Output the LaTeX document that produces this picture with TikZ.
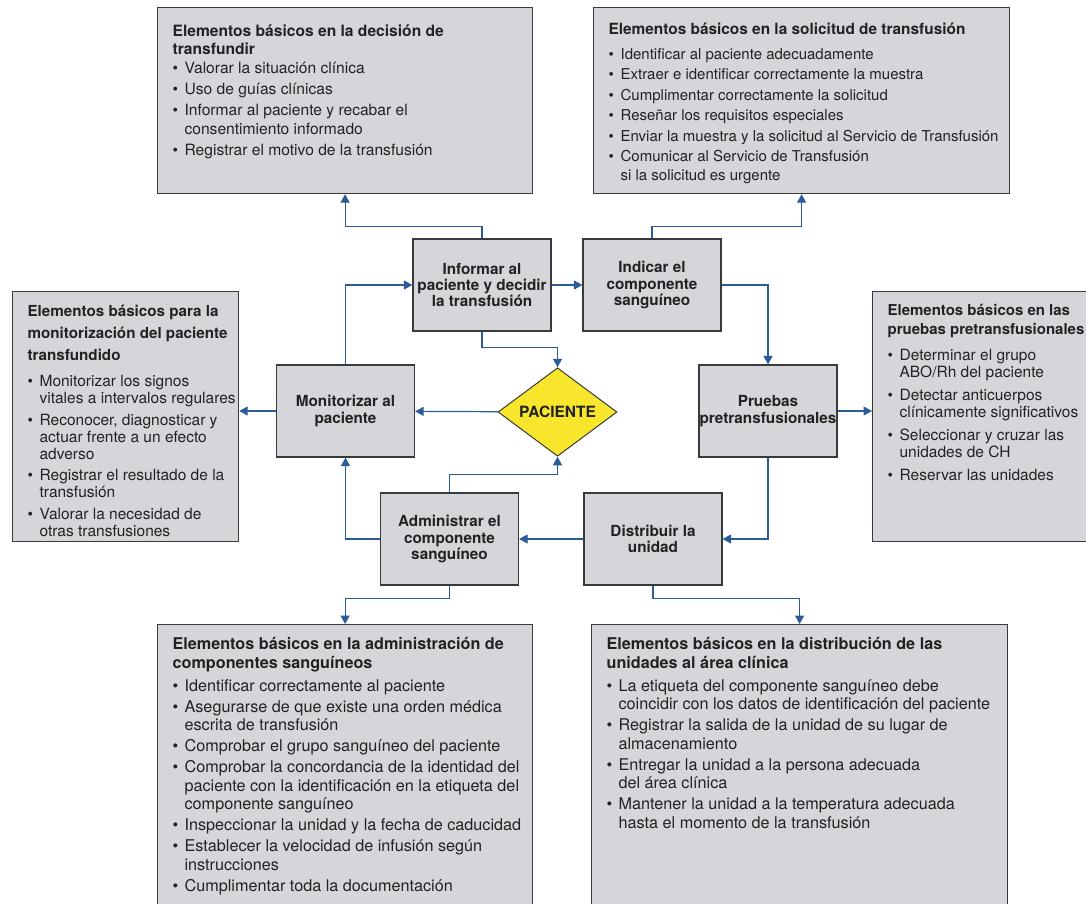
\documentclass[tikz,border=0pt]{standalone}
\usepackage{fontspec}
\setmainfont{TeX Gyre Heros}
\usetikzlibrary{arrows.meta,shapes.geometric}

\definecolor{boxfill}{HTML}{D4D6D9}
\definecolor{boxline}{HTML}{3A3A3A}
\definecolor{flowblue}{HTML}{2B5C97}
\definecolor{pacyellow}{HTML}{F7E62B}
\definecolor{inktext}{HTML}{222222}

% header and bullet lines of the side boxes
\newlength{\itemgap}\setlength{\itemgap}{2.5pt}
\newlength{\headgap}\setlength{\headgap}{2pt}
\newcommand{\bhead}[2][]{{#1\bfseries #2\par}\vspace{\headgap}}
\newcommand{\bpt}[1]{\par\vspace{\itemgap}\hangindent=12pt\hangafter=1\noindent
  \makebox[12pt][l]{\textbullet}#1\par}
% text of a side box: [top shift], width, height, lines
\newcommand{\boxtext}[4][0pt]{\makebox[#2][l]{\parbox[t][#3][t]{460pt}{%
  \vspace*{#1}\raggedright\let\\\newline #4}}}

\begin{document}
\begin{tikzpicture}[
  x=1pt, y=-1pt,
  every node/.style={text=inktext},
  infobox/.style={rectangle, draw=boxline, fill=boxfill, line width=1.2pt,
                  anchor=north west, inner xsep=15pt, inner ysep=13pt},
  topbox/.style={infobox, font=\fontsize{15.6}{18.5}\selectfont},
  lowbox/.style={infobox, font=\fontsize{16.2}{18.5}\selectfont},
  sidebox/.style={infobox, font=\fontsize{15.5}{17}\selectfont},
  stage/.style={rectangle, draw=boxline, fill=boxfill, line width=1.2pt,
                minimum width=138pt, minimum height=92pt, inner sep=0pt,
                align=center, font=\fontsize{15.3}{16.3}\selectfont\bfseries},
  hub/.style={diamond, draw=boxline, fill=pacyellow, line width=1pt,
              minimum width=119pt, minimum height=69pt, inner sep=0pt,
              font=\fontsize{15.5}{17}\selectfont\bfseries},
  flow/.style={draw=flowblue, line width=1.2pt,
               -{Triangle[length=8.5pt,width=9pt]}},
]
\path[use as bounding box, clip] (0,0) rectangle (1086,903);

% central cycle
\node[stage] (inf) at (482,285)   {Informar al\\paciente y decidir\\la transfusión};
\node[stage] (ind) at (652,285)   {Indicar el\\componente\\sanguíneo};
\node[stage] (mon) at (345.5,411) {Monitorizar al\\paciente};
\node[stage] (pru) at (768,411)   {Pruebas\\pretransfusionales};
\node[stage] (adm) at (449.5,539) {Administrar el\\componente\\sanguíneo};
\node[stage] (dis) at (653,539)   {Distribuir la\\unidad};
\node[hub]   (pac) at (557.5,412) {PACIENTE};

% side boxes
\node[topbox] (decbox) at (157,7) {\boxtext[4pt]{345pt}{160pt}{%
  \setlength{\headgap}{-2pt}%
  \bhead{Elementos básicos en la decisión de\\transfundir}
  \bpt{Valorar la situación clínica}
  \bpt{Uso de guías clínicas}
  \bpt{Informar al paciente y recabar el\\consentimiento informado}
  \bpt{Registrar el motivo de la transfusión}}};
\node[topbox, font=\fontsize{15}{18.5}\selectfont] (solbox) at (593,7)
  {\boxtext[2pt]{386pt}{160pt}{%
  \setlength{\headgap}{4.5pt}\setlength{\itemgap}{2pt}%
  \bhead[\fontsize{15.4}{18.5}\selectfont]{Elementos básicos en la solicitud de transfusión}
  \bpt{Identificar al paciente adecuadamente}
  \bpt{Extraer e identificar correctamente la muestra}
  \bpt{Cumplimentar correctamente la solicitud}
  \bpt{Reseñar los requisitos especiales}
  \bpt{Enviar la muestra y la solicitud al Servicio de Transfusión}
  \bpt{Comunicar al Servicio de Transfusión\\si la solicitud es urgente}}};
\node[sidebox] (monbox) at (12,291) {\boxtext{196pt}{224pt}{%
  \setlength{\headgap}{5pt}\setlength{\itemgap}{4.5pt}%
  \bhead[\fontsize{15.2}{22}\selectfont]{Elementos básicos para la\\monitorización del paciente\\transfundido}
  \bpt{Monitorizar los signos\\vitales a intervalos regulares}
  \bpt{Reconocer, diagnosticar y\\actuar frente a un efecto\\adverso}
  \bpt{Registrar el resultado de la\\transfusión}
  \bpt{Valorar la necesidad de\\otras transfusiones}}};
\node[sidebox] (prubox) at (872,291) {\boxtext{196pt}{224pt}{%
  \setlength{\headgap}{3pt}\setlength{\itemgap}{6pt}%
  \bhead[\fontsize{15}{18.5}\selectfont]{Elementos básicos en las\\pruebas pretransfusionales}
  \bpt{Determinar el grupo\\ABO/Rh del paciente}
  \bpt{Detectar anticuerpos\\clínicamente significativos}
  \bpt{Seleccionar y cruzar las\\unidades de CH}
  \bpt{Reservar las unidades}}};
\node[lowbox] (admbox) at (157,624) {\boxtext{345pt}{274pt}{%
  \bhead{Elementos básicos en la administración de\\componentes sanguíneos}
  \bpt{Identificar correctamente al paciente}
  \bpt{Asegurarse de que existe una orden médica\\escrita de transfusión}
  \bpt{Comprobar el grupo sanguíneo del paciente}
  \bpt{Comprobar la concordancia de la identidad del\\paciente con la identificación en la etiqueta del\\componente sanguíneo}
  \bpt{Inspeccionar la unidad y la fecha de caducidad}
  \bpt{Establecer la velocidad de infusión según\\instrucciones}
  \bpt{Cumplimentar toda la documentación}}};
\node[lowbox] (disbox) at (591,624) {\boxtext{386pt}{274pt}{%
  \bhead{Elementos básicos en la distribución de las\\unidades al área clínica}
  \bpt{La etiqueta del componente sanguíneo debe\\coincidir con los datos de identificación del paciente}
  \bpt{Registrar la salida de la unidad de su lugar de\\almacenamiento}
  \bpt{Entregar la unidad a la persona adecuada\\del área clínica}
  \bpt{Mantener la unidad a la temperatura adecuada\\hasta el momento de la transfusión}}};

% cycle arrows
\draw[flow] (mon.north) |- (inf.west);
\draw[flow] (inf) -- (ind);
\draw[flow] (ind.east) -| (pru.north);
\draw[flow] (pru.south) |- (dis.east);
\draw[flow] (dis) -- (adm);
\draw[flow] (adm.west) -| (mon.south);
\draw[flow] (inf.south) -- ++(0,16) -| (pac.north);
\draw[flow] (adm.north) -- ++(0,-18) -| (pac.south);
\draw[flow] (pac) -- (mon);

% arrows to the side boxes
\draw[flow] (inf.north) -- ++(0,-12) -| (decbox.south);
\draw[flow] (ind.north) -- ++(0,-12) -| (solbox.south);
\draw[flow] (mon.west) -- (mon.west -| monbox.east);
\draw[flow] (pru.east) -- (pru.east -| prubox.west);
\draw[flow] (adm.south) -- ++(0,13) -| (admbox.north);
\draw[flow] (dis.south) -- ++(0,13) -| (disbox.north);
\end{tikzpicture}
\end{document}
